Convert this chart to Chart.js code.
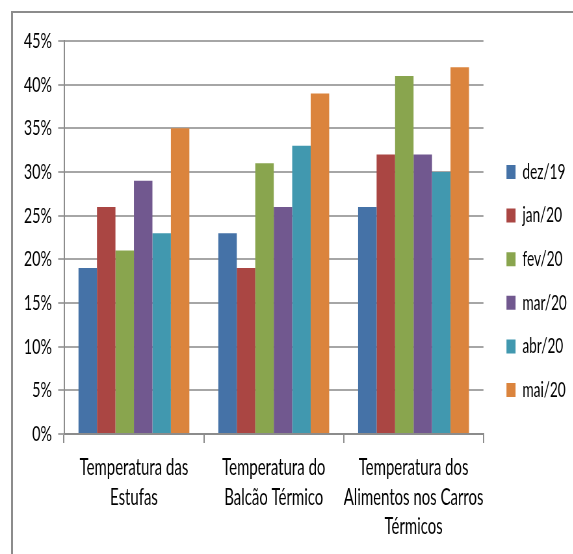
<!DOCTYPE html>
<html>
<head>
<meta charset="utf-8">
<script src="https://cdn.jsdelivr.net/npm/chart.js@4/dist/chart.umd.min.js"></script>
<style>
  html, body { margin: 0; padding: 0; background: #fff; overflow: hidden; }
  body { width: 573px; height: 554px; position: relative; }
  #frame { position: absolute; left: 11px; top: 11px; width: 700px; height: 700px;
           border-top: 2px solid #8c8c8c; border-left: 2px solid #8c8c8c; }
  #wrap { position: absolute; left: 0; top: 0; width: 882px; height: 554px;
          transform: scaleX(0.65); transform-origin: 0 0; }
  #chart { display: block; width: 882px; height: 554px; }
</style>
</head>
<body>
<div id="frame"></div>
<div id="wrap"><canvas id="chart" width="882" height="554"></canvas></div>
<script>
// Categories (multi-line axis labels) and monthly series, in percent
const categories = [
  ['Temperatura das', 'Estufas'],
  ['Temperatura do', 'Balcão Térmico'],
  ['Temperatura dos', 'Alimentos nos Carros', 'Térmicos']
];
const months = ['dez/19', 'jan/20', 'fev/20', 'mar/20', 'abr/20', 'mai/20'];
const dez19 = [19, 23, 26];
const jan20 = [26, 19, 32];
const fev20 = [21, 31, 41];
const mar20 = [29, 26, 32];
const abr20 = [23, 33, 30];
const mai20 = [35, 39, 42];
const percentTicks = [0, 5, 10, 15, 20, 25, 30, 35, 40, 45];

const seriesValues = [dez19, jan20, fev20, mar20, abr20, mai20];
const palette = ['#4572A7', '#AA4643', '#89A54E', '#71588F', '#4198AF', '#DB843D'];

Chart.defaults.font.family = 'Lato';
Chart.defaults.color = '#000';

// Let the category labels run below the padded layout area (third line).
const extendLabelArea = {
  id: 'extendLabelArea',
  afterLayout(chart) { chart.scales.x.bottom = chart.height; }
};

new Chart(document.getElementById('chart'), {
  type: 'bar',
  plugins: [extendLabelArea],
  data: {
    labels: categories,
    datasets: months.map((m, i) => ({
      label: m,
      data: seriesValues[i],
      backgroundColor: palette[i],
      borderWidth: 0,
      categoryPercentage: 0.793,
      barPercentage: 1.0
    }))
  },
  options: {
    responsive: false,
    animation: false,
    layout: { padding: { left: 0, top: 41, right: 0, bottom: 33 } },
    plugins: {
      tooltip: { enabled: false },
      legend: {
        position: 'right',
        align: 'center',
        labels: {
          boxWidth: 14,
          boxHeight: 14,
          padding: 22.6,
          font: { size: 21 },
          color: '#000'
        }
      }
    },
    scales: {
      x: {
        grid: { display: true, drawOnChartArea: false, drawTicks: true, tickLength: 9,
                color: '#8c8c8c', lineWidth: 2, offset: true },
        border: { display: true, color: '#8c8c8c', width: 2 },
        ticks: { font: { size: 23, lineHeight: 29.5 / 23 }, padding: 10,
                 maxRotation: 0, autoSkip: false, color: '#000' },
        afterFit: s => { s.height = 87; }
      },
      y: {
        min: 0, max: 45,
        afterBuildTicks: axis => { axis.ticks = percentTicks.map(v => ({ value: v })); },
        grid: { color: '#a6a6a6', lineWidth: 2, drawTicks: true, tickLength: 9 },
        border: { display: true, color: '#8c8c8c', width: 2 },
        ticks: { font: { size: 22 }, padding: 9.5, color: '#000',
                 callback: v => v + '%' },
        afterFit: s => { s.width = 98.5; }
      },
      gap: {
        type: 'linear', position: 'right', display: true,
        grid: { display: false }, border: { display: false }, ticks: { display: false },
        afterFit: s => { s.width = 12.8; }
      }
    }
  }
});
</script>
</body>
</html>
